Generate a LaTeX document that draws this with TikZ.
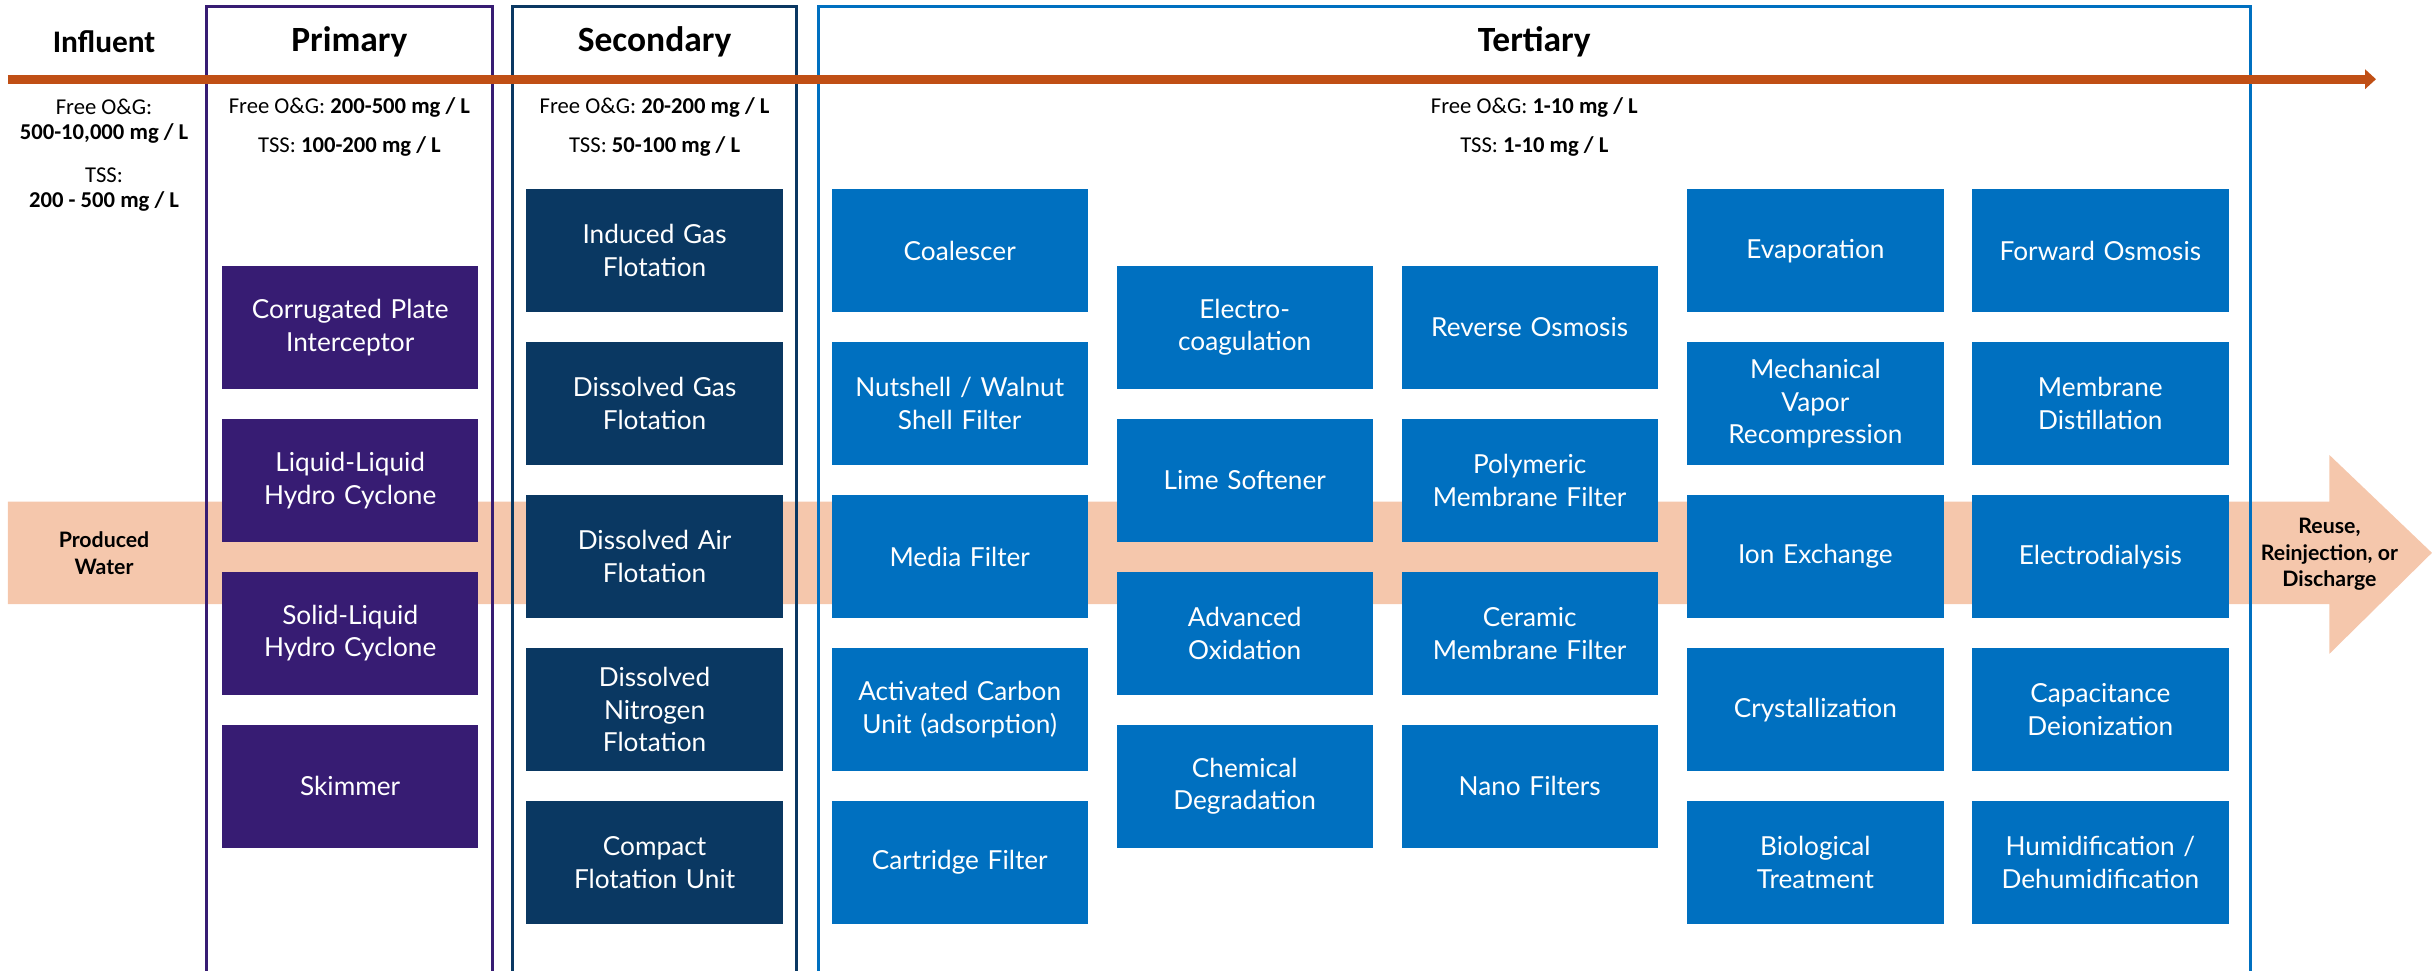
\documentclass[tikz,border=0pt]{standalone}
\usepackage{fontspec}
\setmainfont{Lato}
\newfontfamily\narrowfont{Carlito}
\usetikzlibrary{arrows.meta}
\definecolor{primpurple}{HTML}{371C73}
\definecolor{secnavy}{HTML}{0A3862}
\definecolor{tertblue}{HTML}{0070C0}
\definecolor{flowpeach}{HTML}{F5C7AC}
\definecolor{flowrust}{HTML}{C04F15}
\tikzset{>=Triangle}
\tikzset{
  unit/.style = {rectangle, minimum width=3.3cm, minimum height=1.58cm, text width=3.2cm, inner sep=0pt, align=center, text=white, font=\fontsize{9.6}{12}\selectfont},
  primunit/.style = {unit, fill=primpurple},
  secunit/.style = {unit, fill=secnavy},
  tertunit/.style = {unit, fill=tertblue},
  stagehead/.style = {font=\narrowfont\bfseries\fontsize{13}{15}\selectfont},
  spec/.style = {font=\narrowfont\fontsize{8.3}{10}\selectfont, align=center},
  flowtext/.style = {font=\bfseries\fontsize{7.8}{9.8}\selectfont, align=center},
  frame/.style = {line width=1pt},
}

\begin{document}
\begin{tikzpicture}
\useasboundingbox (0,0) rectangle (31.36,-12.5);

% produced water band
\fill [flowpeach] (0.1,-6.46) -- (30.0,-6.46) -- (30.0,-5.86) -- (31.32,-7.12)
  -- (30.0,-8.42) -- (30.0,-7.78) -- (0.1,-7.78) -- cycle;
\node [flowtext] (pw) at (1.34,-7.12) {Produced\\Water};
\node [flowtext] (out) at (30.0,-7.14) {Reuse,\\Reinjection, or\\Discharge};

% stage frames
\draw [frame, draw=primpurple] (2.66,-12.5) -- (2.66,-0.08) -- (6.34,-0.08) -- (6.34,-12.5);
\draw [frame, draw=secnavy] (6.60,-12.5) -- (6.60,-0.08) -- (10.26,-0.08) -- (10.26,-12.5);
\draw [frame, draw=tertblue] (10.54,-12.5) -- (10.54,-0.08) -- (28.98,-0.08) -- (28.98,-12.5);

% treatment level arrow
\coordinate (lvlstart) at (0.1,-1.02);
\coordinate (lvlend) at (30.6,-1.02);
\draw [-{Triangle[width=7pt,length=4pt]}, draw=flowrust, line width=3.4pt] (lvlstart) to (lvlend);

% headers
\node [stagehead, font=\narrowfont\bfseries\fontsize{11.5}{14}\selectfont] (infl) at (1.34,-0.54) {Influent};
\node [stagehead] (prim) at (4.50,-0.54) {Primary};
\node [stagehead] (sec) at (8.43,-0.54) {Secondary};
\node [stagehead] (tert) at (19.76,-0.54) {Tertiary};

% concentrations
\node [spec] (inflog) at (1.34,-1.38) {Free O\&G:};
\node [spec] (inflogv) at (1.34,-1.72) {\textbf{500-10,000 mg / L}};
\node [spec] (infltss) at (1.34,-2.26) {TSS:};
\node [spec] (infltssv) at (1.34,-2.60) {\textbf{200 - 500 mg / L}};
\node [spec] (primog) at (4.50,-1.38) {Free O\&G: \textbf{200-500 mg / L}};
\node [spec] (primtss) at (4.50,-1.88) {TSS: \textbf{100-200 mg / L}};
\node [spec] (secog) at (8.43,-1.38) {Free O\&G: \textbf{20-200 mg / L}};
\node [spec] (sectss) at (8.43,-1.88) {TSS: \textbf{50-100 mg / L}};
\node [spec] (tertog) at (19.76,-1.38) {Free O\&G: \textbf{1-10 mg / L}};
\node [spec] (terttss) at (19.76,-1.88) {TSS: \textbf{1-10 mg / L}};

% primary
\node [primunit] (cpi) at (4.51,-4.215) {Corrugated Plate\\Interceptor};
\node [primunit] (llhc) at (4.51,-6.185) {Liquid-Liquid\\Hydro Cyclone};
\node [primunit] (slhc) at (4.51,-8.155) {Solid-Liquid\\Hydro Cyclone};
\node [primunit] (skim) at (4.51,-10.125) {Skimmer};

% secondary
\node [secunit] (igf) at (8.43,-3.23) {Induced Gas\\Flotation};
\node [secunit] (dgf) at (8.43,-5.20) {Dissolved Gas\\Flotation};
\node [secunit] (daf) at (8.43,-7.17) {Dissolved Air\\Flotation};
\node [secunit] (dnf) at (8.43,-9.14) {Dissolved\\Nitrogen\\Flotation};
\node [secunit] (cfu) at (8.43,-11.11) {Compact\\Flotation Unit};

% tertiary
\node [tertunit] (coal) at (12.36,-3.23) {Coalescer};
\node [tertunit] (nut) at (12.36,-5.20) {Nutshell / Walnut\\Shell Filter};
\node [tertunit] (media) at (12.36,-7.17) {Media Filter};
\node [tertunit] (acu) at (12.36,-9.14) {Activated Carbon\\Unit (adsorption)};
\node [tertunit] (cart) at (12.36,-11.11) {Cartridge Filter};

\node [tertunit] (ecoag) at (16.03,-4.215) {Electro-\\coagulation};
\node [tertunit] (lime) at (16.03,-6.185) {Lime Softener};
\node [tertunit] (aox) at (16.03,-8.155) {Advanced\\Oxidation};
\node [tertunit] (cdeg) at (16.03,-10.125) {Chemical\\Degradation};

\node [tertunit] (ro) at (19.70,-4.215) {Reverse Osmosis};
\node [tertunit] (pmf) at (19.70,-6.185) {Polymeric\\Membrane Filter};
\node [tertunit] (cmf) at (19.70,-8.155) {Ceramic\\Membrane Filter};
\node [tertunit] (nano) at (19.70,-10.125) {Nano Filters};

\node [tertunit] (evap) at (23.38,-3.23) {Evaporation};
\node [tertunit] (mvr) at (23.38,-5.20) {Mechanical\\Vapor\\Recompression};
\node [tertunit] (ionx) at (23.38,-7.17) {Ion Exchange};
\node [tertunit] (cryst) at (23.38,-9.14) {Crystallization};
\node [tertunit] (bio) at (23.38,-11.11) {Biological\\Treatment};

\node [tertunit] (fo) at (27.05,-3.23) {Forward Osmosis};
\node [tertunit] (md) at (27.05,-5.20) {Membrane\\Distillation};
\node [tertunit] (edial) at (27.05,-7.17) {Electrodialysis};
\node [tertunit] (cdi) at (27.05,-9.14) {Capacitance\\Deionization};
\node [tertunit] (hdh) at (27.05,-11.11) {Humidification /\\Dehumidification};
\end{tikzpicture}
\end{document}
